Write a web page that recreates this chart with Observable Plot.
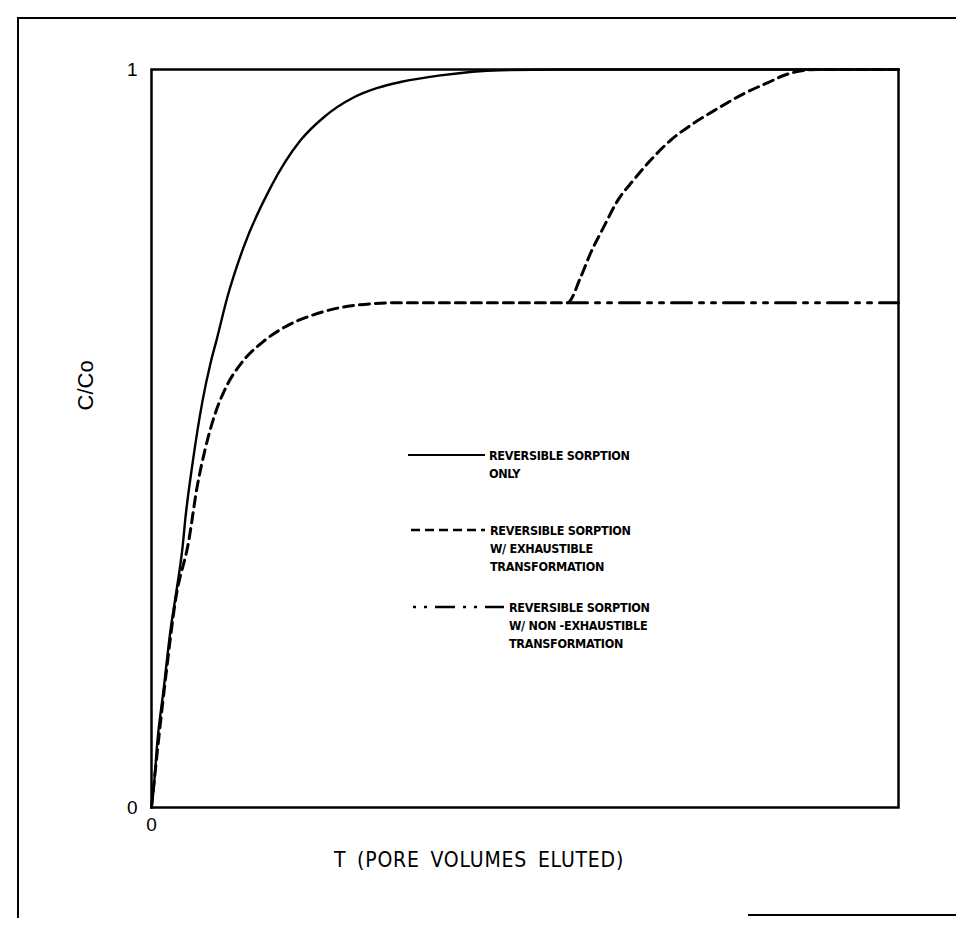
<!DOCTYPE html>
<html>
<head>
<meta charset="utf-8">
<script src="https://cdn.jsdelivr.net/npm/d3@7"></script>
<script src="https://cdn.jsdelivr.net/npm/@observablehq/plot@0.6"></script>
<style>
  body { margin: 0; background: #fff; }
  #wrap { position: relative; width: 956px; height: 928px; overflow: hidden; background: #fff; }
  #wrap svg { position: absolute; left: 0; top: 0; }
  #border { position: absolute; left: 17px; top: 17px; width: 960px; height: 899px;
            border-left: 2px solid #000; border-top: 2px solid #000; }
  #foot { position: absolute; left: 748px; top: 914px; width: 230px; border-top: 2px solid #000; }
</style>
</head>
<body>
<div id="wrap"><div id="border"></div><div id="foot"></div></div>
<script>
// Breakthrough curves: relative concentration C/Co against pore volumes eluted T.

// Reversible sorption only
const tSorption = [0, 0.027, 0.080, 0.161, 0.254, 0.335, 0.415, 0.455, 0.549, 0.683, 0.790, 0.870,
                   1.017, 1.232, 1.593, 1.995, 2.303, 2.704, 3.025, 3.333, 3.869, 4.672, 5.475, 10];
const cSorption = [0, 0.023, 0.091, 0.159, 0.240, 0.294, 0.352, 0.393, 0.466, 0.551, 0.602, 0.633,
                   0.692, 0.759, 0.840, 0.904, 0.935, 0.962, 0.975, 0.983, 0.992, 0.999, 1.0, 1.0];

// Reversible sorption with exhaustible transformation
const tExhaust = [0, 0.094, 0.201, 0.320, 0.500, 0.610, 0.715, 0.840, 1.000, 1.210, 1.480, 1.820,
                  2.150, 2.420, 2.680, 3.333, 4.404, 5.569, 5.743, 5.877, 6.051, 6.238, 6.452,
                  6.680, 6.948, 7.256, 7.577, 7.925, 8.246, 8.554, 8.916, 10];
const cExhaust = [0, 0.091, 0.186, 0.280, 0.362, 0.434, 0.484, 0.530, 0.570, 0.603, 0.630, 0.653,
                  0.667, 0.675, 0.680, 0.684, 0.684, 0.684, 0.718, 0.751, 0.786, 0.822, 0.850,
                  0.877, 0.904, 0.927, 0.947, 0.967, 0.982, 0.995, 1.0, 1.0];

// Reversible sorption with non-exhaustible transformation
// (follows the exhaustible curve up to the plateau, then stays level)
const tNonExhaust = [5.569, 10];
const cNonExhaust = [0.684, 0.684];

const yTicks = [0, 1];
const xTicks = [0];

const yTitle = "C/Co";
const xTitle = "T (PORE VOLUMES ELUTED)";

const legendLabels = [
  ["REVERSIBLE SORPTION", "ONLY"],
  ["REVERSIBLE SORPTION", "W/ EXHAUSTIBLE", "TRANSFORMATION"],
  ["REVERSIBLE SORPTION", "W/ NON -EXHAUSTIBLE", "TRANSFORMATION"]
];

const DASHED = "10,6", DASHDOT = "20,8,4,8,4,8";
const legendDashes = [null, "9,5", "3,8,3,8,20,8"];

const toRows = (ts, cs) => ts.map((t, i) => ({t, c: cs[i]}));
const sorption = toRows(tSorption, cSorption);
const exhaust = toRows(tExhaust, cExhaust);
const nonExhaust = toRows(tNonExhaust, cNonExhaust);

const plotFont = "'Liberation Sans Narrow', 'DejaVu Sans Condensed', 'Liberation Sans', sans-serif";

const chart = Plot.plot({
  width: 956,
  height: 928,
  marginLeft: 151,
  marginRight: 58,
  marginTop: 69,
  marginBottom: 121,
  style: {fontFamily: "'Liberation Sans', Arial, sans-serif", fontSize: "19px", color: "#000", background: "transparent"},
  x: {domain: [0, 10], ticks: xTicks, tickFormat: "d", tickSize: 0, tickPadding: 10, label: null},
  y: {domain: [0, 1], ticks: yTicks, tickFormat: "d", tickSize: 0, tickPadding: 14, label: null},
  marks: [
    Plot.frame({stroke: "#000", strokeWidth: 2.5}),
    Plot.line(sorption, {x: "t", y: "c", stroke: "#000", strokeWidth: 2.4, curve: "monotone-x"}),
    Plot.line(exhaust, {x: "t", y: "c", stroke: "#000", strokeWidth: 3, strokeDasharray: DASHED, curve: "monotone-x"}),
    Plot.line(nonExhaust, {x: "t", y: "c", stroke: "#000", strokeWidth: 3, strokeDasharray: DASHDOT}),
    Plot.text([yTitle], {text: d => d, frameAnchor: "left", dx: -66, dy: -28, rotate: -90, fontSize: 22,
                         fontFamily: "'Liberation Sans', Arial, sans-serif"}),
    Plot.text([xTitle], {text: d => d, frameAnchor: "bottom", dx: -46, dy: 59, fontSize: 21,
                         fontFamily: plotFont})
  ]
});

const wrap = document.getElementById("wrap");
wrap.insertBefore(chart, wrap.firstChild);

const svg = d3.select(chart);

// Slightly wider, plotter-style spacing for the horizontal axis title
svg.selectAll("text")
  .filter(function() { return this.textContent === xTitle; })
  .style("letter-spacing", "0.8px")
  .style("word-spacing", "4px");

// Legend drawn inside the plotting area
const legend = svg.append("g").attr("transform", "translate(408,455)");
const entryOffsets = [0, 75, 152];
const textOffsets = [81, 82, 101];
const lineStarts = [0, 3, 5];
const lineEnds = [77, 77, 96];
legendLabels.forEach((lines, i) => {
  const g = legend.append("g").attr("transform", `translate(0,${entryOffsets[i]})`);
  g.append("line")
    .attr("x1", lineStarts[i]).attr("x2", lineEnds[i]).attr("y1", 0).attr("y2", 0)
    .attr("stroke", "#000").attr("stroke-width", i === 0 ? 2 : 2.6)
    .attr("stroke-dasharray", legendDashes[i]);
  lines.forEach((s, j) => {
    g.append("text")
      .attr("x", textOffsets[i]).attr("y", j * 18)
      .attr("dy", "0.36em")
      .attr("text-anchor", "start")
      .attr("font-family", plotFont)
      .attr("font-size", 12.5)
      .attr("font-weight", 600)
      .attr("letter-spacing", -0.3)
      .attr("fill", "#000")
      .text(s);
  });
});
</script>
</body>
</html>
